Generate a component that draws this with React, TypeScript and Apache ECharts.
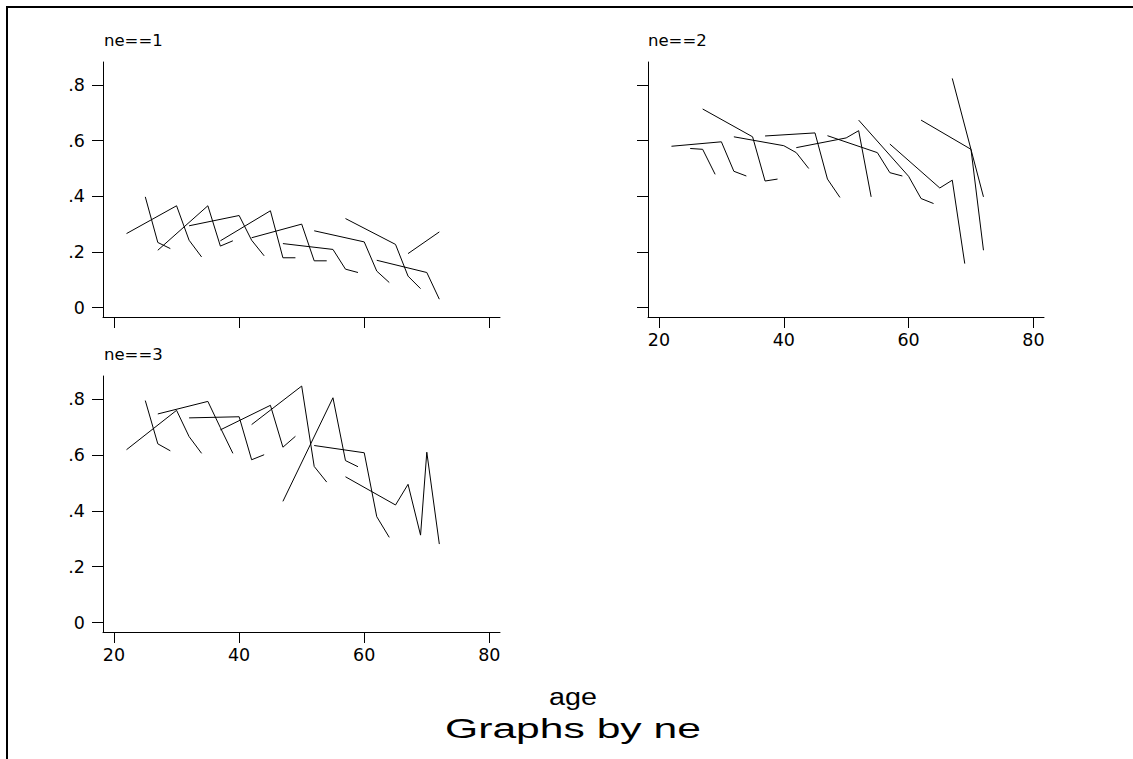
import React, { useEffect, useRef } from "react";
import * as echarts from "echarts";

// ages (x) and values (y) for each connected line, by panel
const xTicks = [20, 40, 60, 80];
const yTicks = [0, 0.2, 0.4, 0.6, 0.8];
const panelTitles = ["ne==1", "ne==2", "ne==3"];

const ne1Lines: [number, number][][] = [
  [[22, 0.266], [30, 0.366], [32, 0.242], [34, 0.182]],
  [[25, 0.398], [27, 0.234], [29, 0.212]],
  [[27, 0.206], [35, 0.366], [37, 0.221], [39, 0.24]],
  [[32, 0.294], [40, 0.331], [42, 0.242], [44, 0.186]],
  [[37, 0.24], [45, 0.348], [47, 0.179], [49, 0.179]],
  [[42, 0.251], [50, 0.3], [52, 0.168], [54, 0.168]],
  [[47, 0.23], [55, 0.209], [57, 0.138], [59, 0.126]],
  [[52, 0.276], [60, 0.236], [62, 0.131], [64, 0.09]],
  [[57, 0.32], [65, 0.227], [67, 0.113], [69, 0.068]],
  [[62, 0.17], [70, 0.126], [72, 0.03]],
  [[67, 0.194], [72, 0.272]],
];

const ne2Lines: [number, number][][] = [
  [[22, 0.58], [30, 0.596], [32, 0.49], [34, 0.473]],
  [[25, 0.572], [27, 0.569], [29, 0.479]],
  [[27, 0.714], [35, 0.614], [37, 0.455], [39, 0.462]],
  [[32, 0.614], [40, 0.582], [42, 0.557], [44, 0.5]],
  [[37, 0.617], [45, 0.628], [47, 0.462], [49, 0.396]],
  [[42, 0.575], [50, 0.61], [52, 0.636], [54, 0.398]],
  [[47, 0.618], [55, 0.557], [57, 0.485], [59, 0.473]],
  [[52, 0.674], [60, 0.472], [62, 0.392], [64, 0.374]],
  [[57, 0.588], [65, 0.43], [67, 0.458], [69, 0.158]],
  [[62, 0.674], [70, 0.569], [72, 0.206]],
  [[67, 0.824], [72, 0.398]],
];

const ne3Lines: [number, number][][] = [
  [[22, 0.619], [30, 0.76], [32, 0.666], [34, 0.606]],
  [[25, 0.795], [27, 0.64], [29, 0.615]],
  [[27, 0.747], [35, 0.792], [37, 0.698], [39, 0.606]],
  [[32, 0.733], [40, 0.737], [42, 0.583], [44, 0.601]],
  [[37, 0.69], [45, 0.778], [47, 0.628], [49, 0.667]],
  [[42, 0.709], [50, 0.847], [52, 0.559], [54, 0.503]],
  [[47, 0.434], [55, 0.805], [57, 0.58], [59, 0.558]],
  [[52, 0.634], [60, 0.608], [62, 0.379], [64, 0.305]],
  [[57, 0.522], [65, 0.421], [67, 0.495], [69, 0.313], [70, 0.61], [72, 0.281]],
];

const panels = [ne1Lines, ne2Lines, ne3Lines];

export default function App() {
  const ref = useRef<HTMLDivElement>(null);

  useEffect(() => {
    document.body.style.margin = "0";
    document.body.style.overflow = "hidden";
    document.documentElement.style.overflow = "hidden";
    if (!ref.current) return;
    const chart = echarts.init(ref.current, undefined, { renderer: "svg" });

    const grids = [
      { left: 103, top: 62, width: 397, height: 255 },
      { left: 648, top: 62, width: 396, height: 255 },
      { left: 103, top: 376, width: 397, height: 256 },
    ];
    const showXLabels = [false, true, true];
    const showYLabels = [true, false, true];
    const labelFont = { fontFamily: "DejaVu Sans", fontSize: 17.5, color: "#000" };

    const xAxes = grids.map((_, i) => ({
      type: "value",
      gridIndex: i,
      min: 18.24,
      max: 81.7,
      axisLine: { show: true, onZero: false, lineStyle: { color: "#000", width: 1 } },
      axisTick: { show: true, length: 11, customValues: xTicks, lineStyle: { color: "#000", width: 1 } },
      axisLabel: { show: showXLabels[i], customValues: xTicks, margin: 14, ...labelFont },
      splitLine: { show: false },
    }));
    const yAxes = grids.map((_, i) => ({
      type: "value",
      gridIndex: i,
      min: -0.034,
      max: 0.883,
      axisLine: { show: true, onZero: false, lineStyle: { color: "#000", width: 1 } },
      axisTick: { show: true, length: 11, customValues: yTicks, lineStyle: { color: "#000", width: 1 } },
      axisLabel: {
        show: showYLabels[i],
        customValues: yTicks,
        margin: 18,
        formatter: (v: number) => (Math.abs(v) < 1e-9 ? "0" : "." + Math.round(v * 10)),
        ...labelFont,
      },
      splitLine: { show: false },
    }));

    const series: any[] = [];
    panels.forEach((lines, p) => {
      lines.forEach((pts) => {
        series.push({
          type: "line",
          xAxisIndex: p,
          yAxisIndex: p,
          data: pts,
          symbol: "none",
          showSymbol: false,
          silent: true,
          lineStyle: { color: "#000", width: 1 },
        });
      });
    });

    const titlePos = [
      [104, 40],
      [648, 40],
      [104, 354],
    ];

    const graphic: any[] = [
      { type: "rect", shape: { x: 6, y: 6, width: 1127, height: 2 }, style: { fill: "#000" } },
      { type: "rect", shape: { x: 6, y: 6, width: 2, height: 753 }, style: { fill: "#000" } },
      ...panelTitles.map((t, i) => ({
        type: "text",
        x: titlePos[i][0],
        y: titlePos[i][1],
        style: {
          text: t,
          fontFamily: "DejaVu Sans",
          fontSize: 16.5,
          fill: "#000",
          textAlign: "left",
          textVerticalAlign: "middle",
        },
      })),
      {
        type: "text",
        x: 573,
        y: 697,
        scaleX: 1.25,
        style: {
          text: "age",
          fontFamily: "Liberation Sans",
          fontSize: 23,
          fill: "#000",
          textAlign: "center",
          textVerticalAlign: "middle",
        },
      },
      {
        type: "text",
        x: 573,
        y: 729,
        scaleX: 1.55,
        style: {
          text: "Graphs by ne",
          fontFamily: "Liberation Sans",
          fontSize: 27.5,
          fill: "#000",
          textAlign: "center",
          textVerticalAlign: "middle",
        },
      },
    ];

    chart.setOption({
      animation: false,
      backgroundColor: "#fff",
      grid: grids,
      xAxis: xAxes,
      yAxis: yAxes,
      series,
      graphic,
    });

    return () => chart.dispose();
  }, []);

  return (
    <div
      ref={ref}
      style={{ position: "fixed", left: 0, top: 0, width: 1133, height: 759, background: "#fff" }}
    />
  );
}
